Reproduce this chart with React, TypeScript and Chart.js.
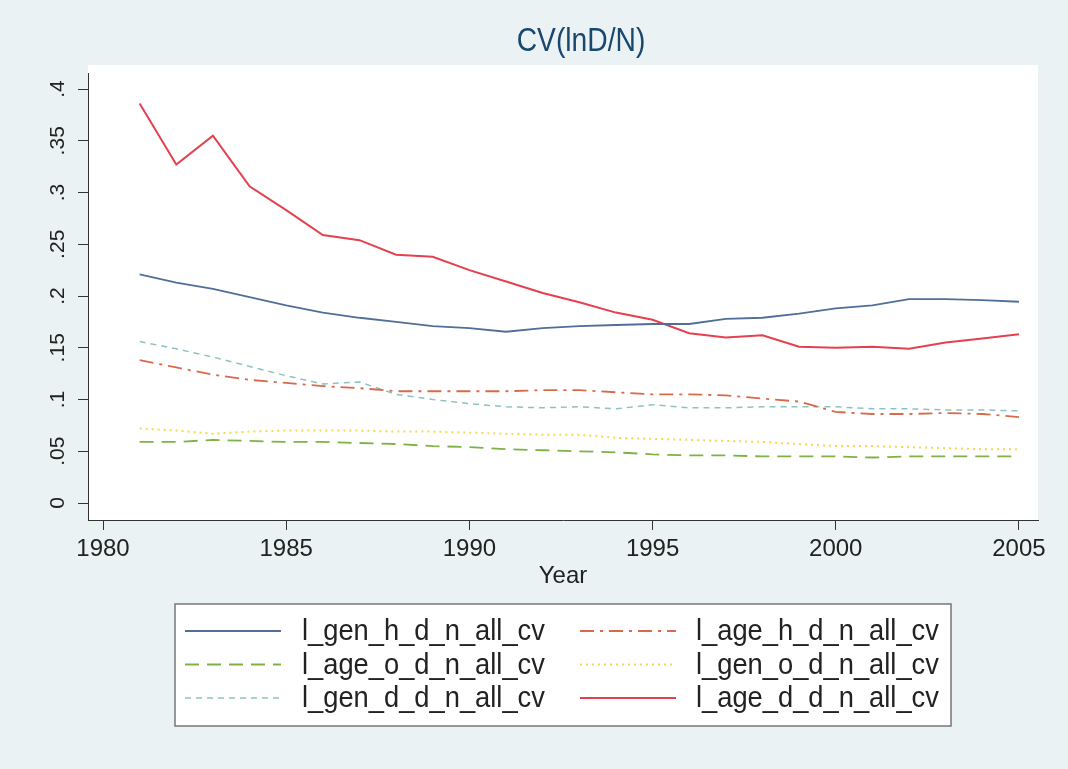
import React, { useEffect, useRef } from 'react';
import { Chart, registerables } from 'chart.js';

Chart.register(...registerables);

const FONT = "'Liberation Sans', Arial, Helvetica, sans-serif";

const years = [1981, 1982, 1983, 1984, 1985, 1986, 1987, 1988, 1989, 1990, 1991, 1992, 1993, 1994, 1995, 1996, 1997, 1998, 1999, 2000, 2001, 2002, 2003, 2004, 2005];

const genH = [0.221, 0.213, 0.207, 0.199, 0.191, 0.184, 0.179, 0.175, 0.171, 0.169, 0.1655, 0.169, 0.171, 0.172, 0.173, 0.173, 0.178, 0.179, 0.183, 0.188, 0.191, 0.197, 0.197, 0.196, 0.1945];
const ageH = [0.138, 0.131, 0.124, 0.119, 0.116, 0.113, 0.111, 0.108, 0.108, 0.108, 0.108, 0.109, 0.109, 0.107, 0.105, 0.105, 0.104, 0.101, 0.098, 0.088, 0.086, 0.086, 0.087, 0.086, 0.083];
const ageO = [0.059, 0.059, 0.061, 0.06, 0.059, 0.059, 0.058, 0.057, 0.055, 0.054, 0.052, 0.051, 0.05, 0.049, 0.047, 0.046, 0.046, 0.045, 0.045, 0.045, 0.044, 0.045, 0.045, 0.045, 0.045];
const genO = [0.072, 0.07, 0.067, 0.069, 0.07, 0.07, 0.07, 0.069, 0.069, 0.068, 0.067, 0.066, 0.066, 0.063, 0.062, 0.061, 0.06, 0.059, 0.057, 0.055, 0.055, 0.054, 0.053, 0.052, 0.052];
const genD = [0.156, 0.149, 0.141, 0.132, 0.123, 0.115, 0.117, 0.105, 0.1, 0.096, 0.093, 0.092, 0.093, 0.091, 0.095, 0.092, 0.092, 0.093, 0.093, 0.093, 0.091, 0.091, 0.09, 0.09, 0.089];
const ageD = [0.386, 0.327, 0.355, 0.306, 0.283, 0.259, 0.254, 0.24, 0.238, 0.225, 0.214, 0.203, 0.194, 0.184, 0.177, 0.164, 0.16, 0.162, 0.151, 0.15, 0.151, 0.149, 0.155, 0.159, 0.163];

const seriesNames = ['l_gen_h_d_n_all_cv', 'l_age_h_d_n_all_cv', 'l_age_o_d_n_all_cv', 'l_gen_o_d_n_all_cv', 'l_gen_d_d_n_all_cv', 'l_age_d_d_n_all_cv'];

const xTickValues = [1980, 1985, 1990, 1995, 2000, 2005];
const yTickValues = [0, 0.05, 0.1, 0.15, 0.2, 0.25, 0.3, 0.35, 0.4];
const yTickLabels = ['0', '.05', '.1', '.15', '.2', '.25', '.3', '.35', '.4'];

const titleText = 'CV(lnD/N)';
const xTitle = 'Year';

const toPoints = (vals: number[]) => years.map((x, i) => ({ x, y: vals[i] }));

const bgPlugin = {
  id: 'stataBg',
  beforeDraw(chart: any) {
    const { ctx, chartArea: a, width, height } = chart;
    ctx.save();
    ctx.fillStyle = '#eaf2f3';
    ctx.fillRect(0, 0, width, height);
    ctx.fillStyle = '#ffffff';
    ctx.fillRect(a.left, a.top - 8, a.right - a.left, a.bottom - a.top + 8);
    ctx.restore();
  },
};

// condensed text (the original uses a narrow sans face)
function narrowText(ctx: any, text: string, x: number, y: number, size: number, squeeze: number, align: string, color: string) {
  ctx.save();
  ctx.font = `${size}px ${FONT}`;
  ctx.textBaseline = 'middle';
  ctx.textAlign = align;
  ctx.fillStyle = color;
  ctx.translate(x, y);
  ctx.scale(squeeze, 1);
  ctx.fillText(text, 0, 0);
  ctx.restore();
}

const titlePlugin = {
  id: 'stataTitle',
  afterDraw(chart: any) {
    const { ctx, chartArea: a } = chart;
    narrowText(ctx, titleText, (a.left + a.right) / 2 + 18, 42, 34, 0.83, 'center', '#1a476f');
  },
};

const legendPlugin = {
  id: 'stataLegend',
  afterDraw(chart: any) {
    const { ctx } = chart;
    const boxL = 175, boxT = 604, boxW = 776, boxH = 122;
    ctx.save();
    ctx.fillStyle = '#ffffff';
    ctx.fillRect(boxL, boxT, boxW, boxH);
    ctx.strokeStyle = '#777777';
    ctx.lineWidth = 1.5;
    ctx.strokeRect(boxL, boxT, boxW, boxH);
    chart.data.datasets.forEach((ds: any, i: number) => {
      const col = i % 2;
      const row = Math.floor(i / 2);
      const y = boxT + 27 + row * 33.5;
      const sx = col ? 580 : 185;
      ctx.strokeStyle = ds.borderColor;
      ctx.lineWidth = ds.borderWidth;
      ctx.setLineDash(ds.borderDash || []);
      ctx.beginPath();
      ctx.moveTo(sx, y);
      ctx.lineTo(sx + 96, y);
      ctx.stroke();
      ctx.setLineDash([]);
      narrowText(ctx, ds.label, col ? 696 : 302, y + 1, 30, 0.91, 'left', '#222222');
    });
    ctx.restore();
  },
};

export default function App() {
  const canvasRef = useRef<HTMLCanvasElement>(null);

  useEffect(() => {
    const canvas = canvasRef.current;
    if (!canvas) return;
    Chart.defaults.font.family = FONT;
    const styles = [
      { color: '#4f6f98', width: 1.8, dash: [] as number[] },
      { color: '#d9694a', width: 1.8, dash: [14, 6, 3, 6] },
      { color: '#7cb342', width: 1.8, dash: [14, 8] },
      { color: '#f2d94e', width: 2, dash: [2, 4] },
      { color: '#8cc2c0', width: 1.5, dash: [6, 5] },
      { color: '#e5404f', width: 2, dash: [] as number[] },
    ];
    const values = [genH, ageH, ageO, genO, genD, ageD];
    const chart = new Chart(canvas, {
      type: 'line',
      data: {
        datasets: values.map((v, i) => ({
          label: seriesNames[i],
          data: toPoints(v),
          borderColor: styles[i].color,
          backgroundColor: styles[i].color,
          borderWidth: styles[i].width,
          borderDash: styles[i].dash,
          pointRadius: 0,
          tension: 0,
          fill: false,
        })),
      },
      options: {
        responsive: false,
        animation: false,
        layout: { padding: { top: 73, left: 0, right: 30, bottom: 177 } },
        plugins: {
          legend: { display: false },
          tooltip: { enabled: false },
          title: { display: false },
        },
        scales: {
          x: {
            type: 'linear',
            min: 1979.59,
            max: 2005.52,
            afterBuildTicks: (scale: any) => {
              scale.ticks = xTickValues.map((v) => ({ value: v }));
            },
            afterFit: (scale: any) => {
              scale.height = 72;
            },
            grid: { drawOnChartArea: false, drawTicks: true, tickLength: 10, color: '#333333' },
            border: { display: true, color: '#333333', width: 1 },
            ticks: {
              color: '#222222',
              font: { size: 24, family: FONT },
              padding: 5,
              maxRotation: 0,
              minRotation: 0,
              callback: (v: any) => String(v),
            },
            title: {
              display: true,
              text: xTitle,
              color: '#222222',
              font: { size: 24, family: FONT },
              padding: { top: 0, bottom: 1 },
            },
          },
          y: {
            type: 'linear',
            min: -0.0164,
            max: 0.4155,
            afterBuildTicks: (scale: any) => {
              scale.ticks = yTickValues.map((v) => ({ value: v }));
            },
            afterFit: (scale: any) => {
              scale.width = 88;
            },
            grid: { drawOnChartArea: false, drawTicks: true, tickLength: 10, color: '#333333' },
            border: { display: true, color: '#333333', width: 1 },
            ticks: {
              color: '#222222',
              font: { size: 21, family: FONT },
              padding: 5,
              minRotation: 90,
              maxRotation: 90,
              crossAlign: 'center',
              callback: (v: any) => {
                const idx = yTickValues.findIndex((t) => Math.abs(t - v) < 1e-9);
                return idx >= 0 ? yTickLabels[idx] : '';
              },
            },
          },
        },
      },
      plugins: [bgPlugin, titlePlugin, legendPlugin],
    } as any);
    return () => chart.destroy();
  }, []);

  return (
    <div style={{ position: 'fixed', left: 0, top: 0, width: 1068, height: 769, background: '#eaf2f3' }}>
      <canvas ref={canvasRef} width={1068} height={769} style={{ display: 'block' }} />
    </div>
  );
}
